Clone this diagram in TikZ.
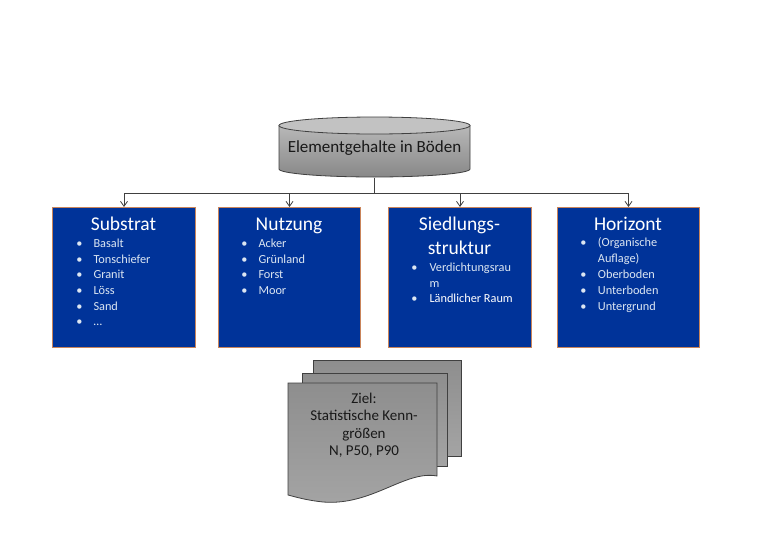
\documentclass[tikz,border=0pt]{standalone}
\usepackage{fontspec}
\setmainfont{Carlito}
\usetikzlibrary{arrows.meta}
\definecolor{boxblue}{HTML}{003399}
\definecolor{boxedge}{HTML}{C9845A}
\definecolor{itemcol}{HTML}{DCE6F2}
\definecolor{linecol}{HTML}{404040}
\definecolor{cyltop}{HTML}{B8B8B8}
\definecolor{cylbot}{HTML}{888888}
\definecolor{cylcap}{HTML}{C2C2C2}
\definecolor{sheettop}{HTML}{8E8E8E}
\definecolor{sheetbot}{HTML}{A4A4A4}
\tikzset{
  catbox/.style={draw=boxedge, line width=1pt, fill=boxblue, minimum height=140pt, anchor=north west, inner sep=0pt},
  cattitle/.style={text=white, font=\fontsize{19.5}{22}\selectfont, anchor=base, inner sep=0pt},
  item/.style={text=itemcol, font=\fontsize{12.3}{14}\selectfont, anchor=base west, inner sep=0pt},
  bul/.style={text=itemcol, font=\fontsize{12.3}{14}\selectfont, anchor=base, inner sep=0pt},
  conn/.style={draw=linecol, line width=0.8pt},
  arr/.style={conn, -{Straight Barb[length=5pt,width=7pt]}},
  sheet/.style={draw=linecol, line width=0.8pt, top color=sheettop, bottom color=sheetbot},
}
\begin{document}
\begin{tikzpicture}[x=1pt,y=-1pt]
\useasboundingbox[fill=white] (0,0) rectangle (780,552);
% cylinder
\path[draw=linecol, line width=0.8pt, top color=cyltop, bottom color=cylbot]
  (279,125.5) -- (279,169) arc[start angle=180,end angle=0,x radius=95.5,y radius=8] -- (470,125.5) -- cycle;
\path[draw=linecol, line width=0.8pt, fill=cylcap] (374.5,125.5) ellipse[x radius=95.5, y radius=8.5];
\node[minimum width=191pt, minimum height=60pt, inner sep=0pt, font=\fontsize{17}{20}\selectfont, text=black!90] (cyl) at (374.5,148) {Elementgehalte in Böden};
\coordinate (bus) at (374.5,193);
% boxes
\node[catbox, minimum width=143pt] (sub) at (52,207) {};
\node[catbox, minimum width=142pt] (nut) at (218,207) {};
\node[catbox, minimum width=143pt] (sied) at (388,207) {};
\node[catbox, minimum width=142pt] (hor) at (557,207) {};
% connectors
\draw[conn] (cyl.south) -- (bus);
\draw[arr] (bus) -| (sub.north);
\draw[arr] (bus) -| (nut.north);
\draw[arr] (bus) -| (sied.north);
\draw[arr] (bus) -| (hor.north);
% titles
\node[cattitle] (subt) at (123.5,230.5) {Substrat};
\node[cattitle] (nutt) at (289,230.5) {Nutzung};
\node[cattitle] (siedt1) at (459.5,230) {Siedlungs-};
\node[cattitle] (siedt2) at (459.5,254) {struktur};
\node[cattitle] (hort) at (628,230) {Horizont};
% items
\foreach \t [count=\i from 0] in {Basalt,Tonschiefer,Granit,Löss,Sand,…}{
  \node[bul] (sb\i) at (79.5,247.3+15.7*\i) {•};
  \node[item] (si\i) at (93.3,247.3+15.7*\i) {\t};
}
\foreach \t [count=\i from 0] in {Acker,Grünland,Forst,Moor}{
  \node[bul] (nb\i) at (244.5,247.3+15.7*\i) {•};
  \node[item] (ni\i) at (258.3,247.3+15.7*\i) {\t};
}
\node[bul] (db0) at (414.5,271.7) {•};
\node[item] (di0) at (429.3,271.7) {Verdichtungsrau};
\node[item] (di1) at (429.3,287.3) {m};
\node[bul] (db1) at (414.5,302.7) {•};
\node[item, text=white] (di2) at (429.3,302.7) {Ländlicher Raum};
\node[bul] (hb0) at (583.5,246.7) {•};
\node[item] (hi0) at (597.7,246.7) {(Organische};
\node[item] (hi1) at (597.7,262.7) {Auflage)};
\foreach \t [count=\i from 2] in {Oberboden,Unterboden,Untergrund}{
  \node[bul] (hb\i) at (583.5,247.3+15.7*\i) {•};
  \node[item] (hi\i) at (597.7,247.3+15.7*\i) {\t};
}
% documents
\path[sheet] (313,360) rectangle (461,456);
\path[sheet] (302,373) rectangle (447,466);
\path[sheet] (288,383) -- (437,383) -- (437,476)
  .. controls (405,470) and (372,506) .. (323,502)
  .. controls (305,500) and (296,497) .. (288,495) -- cycle;
\node[align=center, inner sep=0pt, font=\fontsize{15}{17.5}\selectfont, text=black!90] (ziel) at (364,425)
  {Ziel:\\Statistische Kenn-\\größen\\N, P50, P90};
\end{tikzpicture}
\end{document}
